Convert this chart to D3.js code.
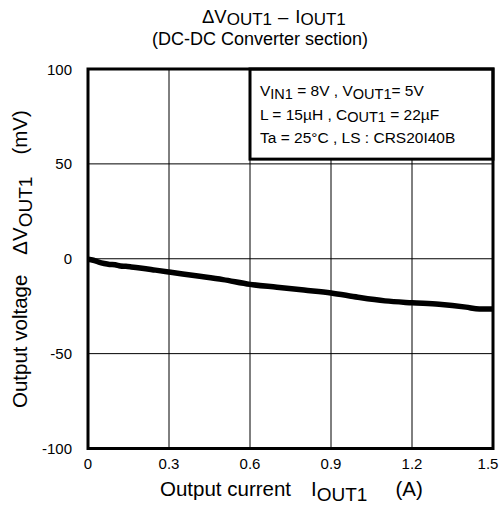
<!DOCTYPE html>
<html><head><meta charset="utf-8">
<script src="https://cdn.jsdelivr.net/npm/d3@7"></script>
<style>body{margin:0;background:#fff}svg{display:block;font-family:"Liberation Sans",Arial,sans-serif}</style>
</head><body>
<svg id="c" width="501" height="515"></svg>
<script>
const currents = [0,0.02,0.04,0.06,0.08,0.1,0.12,0.14,0.16,0.2,0.25,0.3,0.4,0.5,0.6,0.7,0.8,0.9,1.0,1.1,1.2,1.3,1.4,1.45,1.5];
const deltaV   = [-0.3,-0.8,-1.8,-2.5,-3.0,-3.2,-3.8,-4.0,-4.3,-5.0,-6.0,-7.0,-9.0,-11.0,-13.5,-15.0,-16.5,-18.0,-20.3,-22.2,-23.2,-24.0,-25.5,-26.5,-26.5];
const xTicks = [0,0.3,0.6,0.9,1.2,1.5];
const xTickLabels = ["0","0.3","0.6","0.9","1.2","1.5"];
const yTicks = [-100,-50,0,50,100];
const yTickLabels = ["-100","-50","0","50","100"];

const svg = d3.select("#c");
const x = d3.scaleLinear().domain([0,1.5]).range([88,493]);
const y = d3.scaleLinear().domain([-100,100]).range([448.5,69]);
const L=x(0),R=x(1.5),T=y(100),B=y(-100);

// grid
svg.append("g").selectAll("line").data(xTicks.slice(1,-1)).join("line")
  .attr("x1",d=>x(d)).attr("x2",d=>x(d)).attr("y1",T).attr("y2",B)
  .attr("stroke","#000").attr("stroke-width",1);
svg.append("g").selectAll("line").data(yTicks.slice(1,-1)).join("line")
  .attr("y1",d=>y(d)).attr("y2",d=>y(d)).attr("x1",L).attr("x2",R)
  .attr("stroke","#000").attr("stroke-width",1);

// data line
const data = currents.map((c,i)=>[c,deltaV[i]]);
svg.append("path").datum(data)
  .attr("d", d3.line().x(d=>x(d[0])).y(d=>y(d[1])).curve(d3.curveMonotoneX))
  .attr("fill","none").attr("stroke","#000").attr("stroke-width",5.5).attr("stroke-linejoin","round");

function rich(t, parts, subSize, shift){
  let cur=0;
  parts.forEach(p=>{
    const ts=t.append("tspan").text(p.t);
    if(p.dx) ts.attr("dx",p.dx);
    if(p.s){ ts.attr("font-size",subSize).attr("dy",shift-cur); cur=shift; }
    else { ts.attr("dy",-cur); cur=0; }
  });
}

// legend box
const lg = svg.append("g");
lg.append("rect").attr("x",x(0.6)).attr("y",T).attr("width",R-x(0.6)).attr("height",y(52.5)-T)
  .attr("fill","#fff").attr("stroke","#000").attr("stroke-width",3);
const lx = x(0.6)+10;
const legendLines = [
  [{t:"V"},{t:"IN1",s:1},{t:" = 8V , V"},{t:"OUT1",s:1},{t:"= 5V"}],
  [{t:"L = 15µH , C"},{t:"OUT1",s:1},{t:" = 22µF"}],
  [{t:"Ta = 25°C , LS : CRS20I40B"}]
];
legendLines.forEach((pl,i)=>{
  const t=lg.append("text").attr("x",lx).attr("y",96+i*23.5).attr("font-size",15.5);
  rich(t,pl,14.5,2.5);
});

// frame
svg.append("rect").attr("x",L).attr("y",T).attr("width",R-L).attr("height",B-T)
  .attr("fill","none").attr("stroke","#000").attr("stroke-width",3);

// tick labels
svg.append("g").selectAll("text").data(yTicks).join("text")
  .attr("x",72).attr("y",d=>y(d)+5.5).attr("text-anchor","end").attr("font-size",15)
  .text((d,i)=>yTickLabels[i]);
svg.append("g").selectAll("text").data(xTicks).join("text")
  .attr("x",(d,i)=>i===xTicks.length-1?x(d)-5:x(d)).attr("y",469).attr("text-anchor","middle").attr("font-size",15)
  .text((d,i)=>xTickLabels[i]);

// title
const t1 = svg.append("text").attr("x",202).attr("y",22.5).attr("font-size",18.5);
rich(t1,[{t:"ΔV"},{t:"OUT1",s:1},{t:"–",dx:6},{t:"I",dx:7},{t:"OUT1",s:1}],17,2.5);
svg.append("text").attr("x",260).attr("y",45).attr("text-anchor","middle").attr("font-size",18)
  .text("(DC-DC Converter section)");

// x label
const xl = svg.append("text").attr("x",160).attr("y",496).attr("font-size",20.5);
rich(xl,[{t:"Output current"},{t:"I",dx:20},{t:"OUT1",s:1},{t:"(A)",dx:28}],19,5);

// y label
const yl = svg.append("text").attr("transform","translate(27,408) rotate(-90)").attr("font-size",20.5);
rich(yl,[{t:"Output voltage"},{t:"ΔV",dx:20},{t:"OUT1",s:1},{t:"(mV)",dx:22}],19,5);
</script>
</body></html>
